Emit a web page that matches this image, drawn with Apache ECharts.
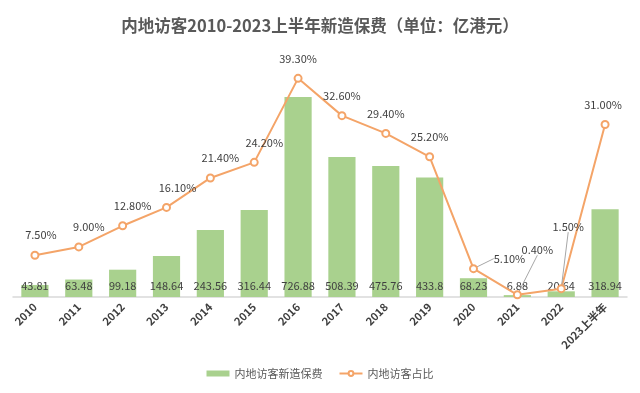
<!DOCTYPE html>
<html><head><meta charset="utf-8">
<script src="https://cdn.jsdelivr.net/npm/echarts@6/dist/echarts.min.js"></script>
<style>html,body{margin:0;padding:0;background:#fff}#c{width:640px;height:393px}</style>
</head><body><div id="c"></div>
<script>
const categories = ['2010','2011','2012','2013','2014','2015','2016','2017','2018','2019','2020','2021','2022','2023上半年'];
const premiums = [43.81,63.48,99.18,148.64,243.56,316.44,726.88,508.39,475.76,433.8,68.23,6.88,20.64,318.94];
const shares = [7.5,9.0,12.8,16.1,21.4,24.2,39.3,32.6,29.4,25.2,5.1,0.4,1.5,31.0];
const titleText = '内地访客2010-2023上半年新造保费（单位：亿港元）';
const seriesNames = ['内地访客新造保费','内地访客占比'];

const labelShift = {0:[6,0],1:[10,0],2:[10,0],3:[11,0],4:[10,0],5:[10,0],10:[36,10],11:[20,-25],12:[7,-42],13:[-2,0]};
const leaderIdx = [10,11,12];
const font = '"Noto Sans CJK SC","Microsoft YaHei",sans-serif';
const chart = echarts.init(document.getElementById('c'));
chart.setOption({
  animation:false,
  textStyle:{fontFamily:font},
  title:{text:titleText,left:'center',top:12,textStyle:{fontSize:16.5,fontWeight:'bold',color:'#595959',fontFamily:font}},
  grid:{left:13,right:13,top:60,bottom:96,containLabel:false},
  legend:{bottom:9,itemGap:16,itemWidth:23,itemHeight:6,textStyle:{fontSize:11,color:'#595959'},
    data:[{name:seriesNames[0],icon:'rect'},{name:seriesNames[1]}]},
  xAxis:{type:'category',data:categories,axisTick:{show:false},
    axisLine:{lineStyle:{color:'#d9d9d9',width:1.5}},
    axisLabel:{rotate:45,interval:0,margin:8,fontSize:11,fontWeight:'bold',color:'#404040'}},
  yAxis:[{type:'value',min:0,max:861,show:false,splitLine:{show:false}},
         {type:'value',min:0,max:42.6,show:false,splitLine:{show:false}}],
  series:[
    {name:seriesNames[0],type:'bar',data:premiums,barCategoryGap:'38%',itemStyle:{color:'#a9d18e'},
     label:{show:true,position:'insideBottom',distance:6,fontSize:11,color:'#404040'}},
    {name:seriesNames[1],type:'line',yAxisIndex:1,
     data:shares.map((v,i)=>leaderIdx.includes(i)?{value:v,labelLine:{show:true,lineStyle:{color:'#a6a6a6',width:1}}}:v),
     symbol:'emptyCircle',symbolSize:7,
     lineStyle:{color:'#f4a468',width:2},itemStyle:{color:'#f4a468',borderWidth:1.5},
     label:{show:true,position:'top',distance:10,fontSize:11,color:'#404040',formatter:p=>p.value.toFixed(2)+'%'},
     labelLayout:p=>{const s=labelShift[p.dataIndex];return s?{dx:s[0],dy:s[1]}:{};}}
  ]
});
</script></body></html>
